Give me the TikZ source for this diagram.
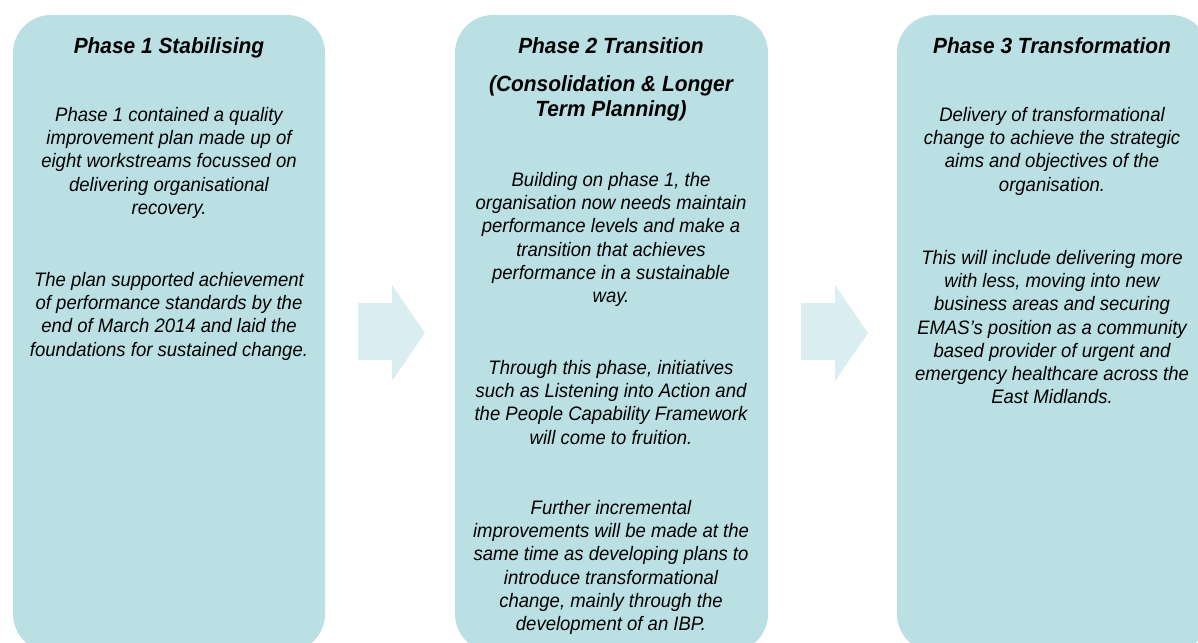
\documentclass[tikz,border=0pt]{standalone}
\usepackage{fontspec}
\setmainfont{Liberation Sans}[FakeStretch=0.95]
\usepackage{tikz}
\definecolor{phasefill}{RGB}{187,224,227}
\definecolor{arrowfill}{RGB}{218,237,240}

\begin{document}
\begin{tikzpicture}[x=1pt, y=-1pt,
    phase/.style={fill=phasefill, rounded corners=38pt},
    headtext/.style={font=\bfseries\itshape\fontsize{22}{25}\selectfont, align=center, inner sep=0pt, anchor=north},
    bodytext/.style={font=\itshape\fontsize{19.5}{23.3}\selectfont, align=center, inner sep=0pt, anchor=north}]
        \clip (0,0) rectangle (1198,642);
        % the three phase panels run off the bottom edge
        \fill[phase] (13,15) rectangle (325,652);
        \fill[phase] (455,15) rectangle (768,652);
        \fill[phase] (897,15) rectangle (1209,652);
        % pale block arrows between the panels
        \foreach \ax in {358,801} {
          \fill[arrowfill] (\ax,303) -- ++(34,0) -- ++(0,-18) -- ++(33,48)
            -- ++(-33,48) -- ++(0,-21) -- ++(-34,0) -- cycle;
        }
        % phase 1
        \node[headtext] (p1head) at (169,37) {Phase 1 Stabilising};
        \node[bodytext] (p1plan) at (169,106.8) {Phase 1 contained a quality\\improvement plan made up of\\eight workstreams focussed on\\delivering organisational\\recovery.};
        \node[bodytext] (p1perf) at (169,271.8) {The plan supported achievement\\of performance standards by the\\end of March 2014 and laid the\\foundations for sustained change.};
        % phase 2
        \node[headtext] (p2head) at (611,37) {Phase 2 Transition};
        \node[headtext, font=\bfseries\itshape\fontsize{22}{25}\selectfont] (p2sub) at (611,75) {(Consolidation \& Longer\\Term Planning)};
        \node[bodytext] (p2build) at (611,171.8) {Building on phase 1, the\\organisation now needs maintain\\performance levels and make a\\transition that achieves\\performance in a sustainable\\way.};
        \node[bodytext] (p2lia) at (611,359.8) {Through this phase, initiatives\\such as Listening into Action and\\the People Capability Framework\\will come to fruition.};
        \node[bodytext] (p2ibp) at (611,499.8) {Further incremental\\improvements will be made at the\\same time as developing plans to\\introduce transformational\\change, mainly through the\\development of an IBP.};
        % phase 3
        \node[headtext] (p3head) at (1052,37) {Phase 3 Transformation};
        \node[bodytext] (p3aims) at (1052,106.8) {Delivery of transformational\\change to achieve the strategic\\aims and objectives of the\\organisation.};
        \node[bodytext] (p3emas) at (1052,249.8) {This will include delivering more\\with less, moving into new\\business areas and securing\\EMAS's position as a community\\based provider of urgent and\\emergency healthcare across the\\East Midlands.};
      \end{tikzpicture}
\end{document}
